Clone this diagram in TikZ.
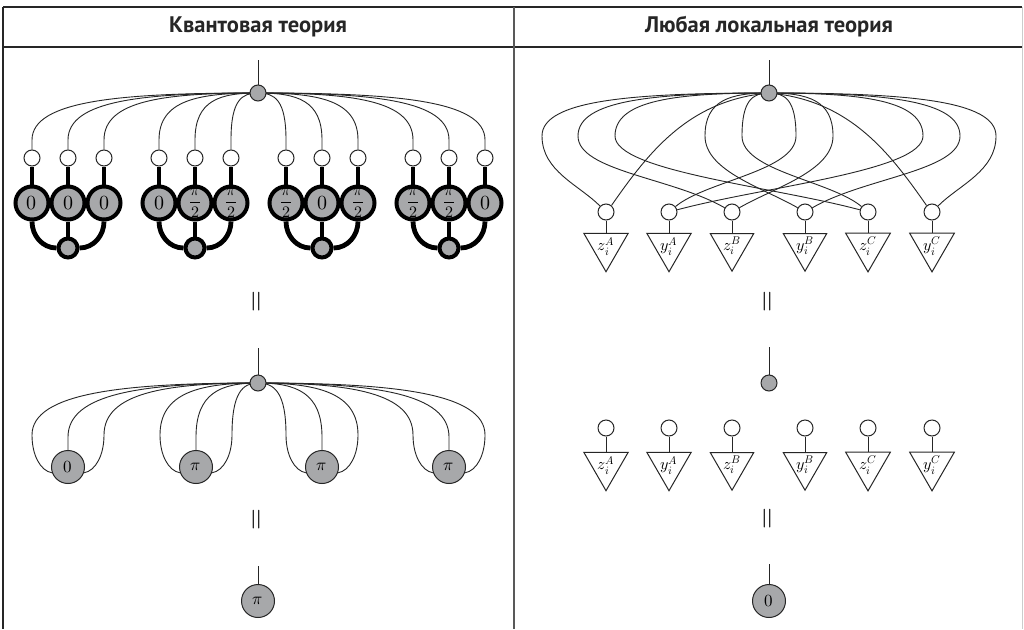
\documentclass[tikz,border=0pt]{standalone}
\usepackage{fontspec}
\usepackage{unicode-math}
\setmathfont{Latin Modern Math}
\newfontfamily\hdrfont{PT Sans}
\usetikzlibrary{shapes.geometric,backgrounds,calc}
\definecolor{gfill}{HTML}{A7A8AA}
\definecolor{ink}{HTML}{262626}
\newcommand\hp{{\fontsize{16}{16}\selectfont$\dfrac{\pi}{2}$}}
\newcommand\zr{$0$}
\newcommand\loopwire[5]{%
  \draw[wire] (#1.center) .. controls ($(#1.center)!0.6!(#2,93)$) and (#2,100) .. (#2,136)
    .. controls +(0,35) and +(#4:#5pt) .. (#3.#4);}
\begin{document}
\begin{tikzpicture}[x=1pt,y=-1pt,
  wire/.style={line width=0.9pt, draw=ink},
  thk/.style={line width=4.8pt, draw=black},
  hubn/.style={circle, draw=ink, fill=gfill, line width=1pt, minimum size=16pt, inner sep=0pt},
  openc/.style={circle, draw=ink, fill=white, line width=1pt, minimum size=16pt, inner sep=0pt},
  bigc/.style={circle, draw=black, fill=gfill, line width=4pt, minimum size=33pt, inner sep=0pt, font=\fontsize{20}{20}\selectfont},
  botc/.style={circle, draw=black, fill=gfill, line width=4pt, minimum size=19pt, inner sep=0pt},
  midc/.style={circle, draw=ink, fill=gfill, line width=1pt, minimum size=33pt, inner sep=0pt, font=\fontsize{17}{17}\selectfont},
  tri/.style={regular polygon, regular polygon sides=3, shape border rotate=180, draw=ink, line width=1pt, minimum size=48.5pt, inner sep=0pt, font=\fontsize{16}{16}\selectfont},
  eqs/.style={rotate=90, font=\fontsize{28}{28}\selectfont, inner sep=0pt},
  hdr/.style={font=\hdrfont\bfseries\fontsize{22.5}{22.5}\selectfont, text=ink},
  rule/.style={line width=1.5pt, draw=ink}
]
\useasboundingbox (0,0) rectangle (1024,629);
\begin{scope}[on background layer]
  \fill[white] (0,0) rectangle (1024,629);
\end{scope}

% frame
\draw[rule] (3,7) -- (1022,7);
\draw[line width=2pt, draw=ink] (3,47) -- (1022,47);
\draw[rule] (3,7) -- (3,629);
\draw[line width=2pt, draw=black!65] (513.5,7) -- (513.5,629);
\draw[line width=1pt, draw=black!20] (1022.5,7) -- (1022.5,629);
\node[hdr] (hq) at (258,27) {Квантовая теория};
\node[hdr] (hl) at (769,27) {Любая локальная теория};

% ---------- top left: quantum ----------
\node[hubn] (h1) at (258,93) {};
\foreach \cx/\la/\lb/\lc [count=\g] in {68/\zr/\zr/\zr, 195/\zr/\hp/\hp, 322/\hp/\zr/\hp, 449/\hp/\hp/\zr} {
  \node[openc] (o\g1) at ({\cx-36},158) {};
  \node[openc] (o\g2) at (\cx,158) {};
  \node[openc] (o\g3) at ({\cx+36},158) {};
  \node[bigc] (b\g1) at ({\cx-36},203) {\la};
  \node[bigc] (b\g2) at (\cx,203) {\lb};
  \node[bigc] (b\g3) at ({\cx+36},203) {\lc};
  \node[botc] (q\g) at (\cx,248) {};
}
\begin{scope}[on background layer]
\draw[wire] (258,60) -- (h1);
\foreach \cx [count=\g] in {68,195,322,449} {
  \foreach \d [count=\k] in {-36,0,36} {
    \pgfmathsetmacro\X{\cx+\d}
    \draw[wire] (h1.center) .. controls ($(h1.center)!0.6!(\X,93)$) and (\X,100) .. (\X,140) -- (o\g\k.north);
    \draw[thk] (o\g\k) -- (b\g\k);
  }
  \draw[thk] (b\g2) -- (q\g);
  \draw[thk] (b\g1.south) to[out=-90,in=180] (q\g.west);
  \draw[thk] (b\g3.south) to[out=-90,in=0] (q\g.east);
}
\end{scope}
\node[eqs] (e1) at (258,302) {$=$};

% ---------- middle left ----------
\node[hubn] (h2) at (258,383) {};
\foreach \cx/\lab [count=\g] in {68/0, 196/\pi, 322/\pi, 449/\pi} {
  \node[midc] (m\g) at (\cx,467) {$\lab$};
}
\begin{scope}[on background layer]
\draw[wire] (258,348) -- (h2);
\foreach \cx [count=\g] in {68,196,322,449} {
  \pgfmathsetmacro\xl{\cx-36}
  \pgfmathsetmacro\xr{\cx+36}
  \draw[wire] (h2.center) .. controls ($(h2.center)!0.6!(\xl,383)$) and (\xl,393) .. (\xl,435)
     .. controls +(0,20) and +(170:12pt) .. (m\g.200);
  \draw[wire] (h2.center) .. controls ($(h2.center)!0.6!(\cx,383)$) and (\cx,393) .. (\cx,437) -- (m\g.north);
  \draw[wire] (h2.center) .. controls ($(h2.center)!0.6!(\xr,383)$) and (\xr,393) .. (\xr,435)
     .. controls +(0,20) and +(10:12pt) .. (m\g.-20);
}
\end{scope}
\node[eqs] (e3) at (258,520) {$=$};
\node[midc] (f1) at (258,601) {$\pi$};
\begin{scope}[on background layer]
\draw[wire] (258,566) -- (f1);
\end{scope}

% ---------- top right: local ----------
\node[hubn] (h3) at (769,93) {};
\foreach \x/\lab [count=\k] in {606/z_i^A, 669/y_i^A, 732/z_i^B, 805/y_i^B, 868/z_i^C, 932/y_i^C} {
  \node[openc] (r\k) at (\x,212) {};
  \node[tri] (t\k) at (\x,246.1) {$\lab$};
}
\begin{scope}[on background layer]
\draw[wire] (769,60) -- (h3);
\foreach \k in {1,...,6} { \draw[wire] (r\k) -- (r\k |- t\k.north); }
\loopwire{h3}{542}{r1}{135}{30}
\loopwire{h3}{578}{r3}{150}{60}
\loopwire{h3}{615}{r5}{165}{90}
\loopwire{h3}{705}{r4}{150}{40}
\loopwire{h3}{742}{r5}{140}{40}
\loopwire{h3}{996}{r6}{45}{30}
\loopwire{h3}{960}{r4}{30}{60}
\loopwire{h3}{923}{r2}{15}{90}
\loopwire{h3}{833}{r3}{30}{40}
\loopwire{h3}{796}{r2}{40}{40}
\draw[wire] (h3.center) .. controls (690,100) and (650,150) .. (r1.50);
\draw[wire] (h3.center) .. controls (848,100) and (888,150) .. (r6.130);
\end{scope}
\node[eqs] (e2) at (769,302) {$=$};

% ---------- middle right ----------
\node[hubn] (h4) at (769,383) {};
\foreach \x/\lab [count=\k] in {606/z_i^A, 669/y_i^A, 732/z_i^B, 805/y_i^B, 868/z_i^C, 932/y_i^C} {
  \node[openc] (s\k) at (\x,428) {};
  \node[tri] (u\k) at (\x,465.1) {$\lab$};
}
\begin{scope}[on background layer]
\draw[wire] (769,347) -- (h4);
\foreach \k in {1,...,6} { \draw[wire] (s\k) -- (s\k |- u\k.north); }
\end{scope}
\node[eqs] (e4) at (769,519) {$=$};
\node[midc] (f2) at (769,601) {$0$};
\begin{scope}[on background layer]
\draw[wire] (769,564) -- (f2);
\end{scope}
\end{tikzpicture}
\end{document}
